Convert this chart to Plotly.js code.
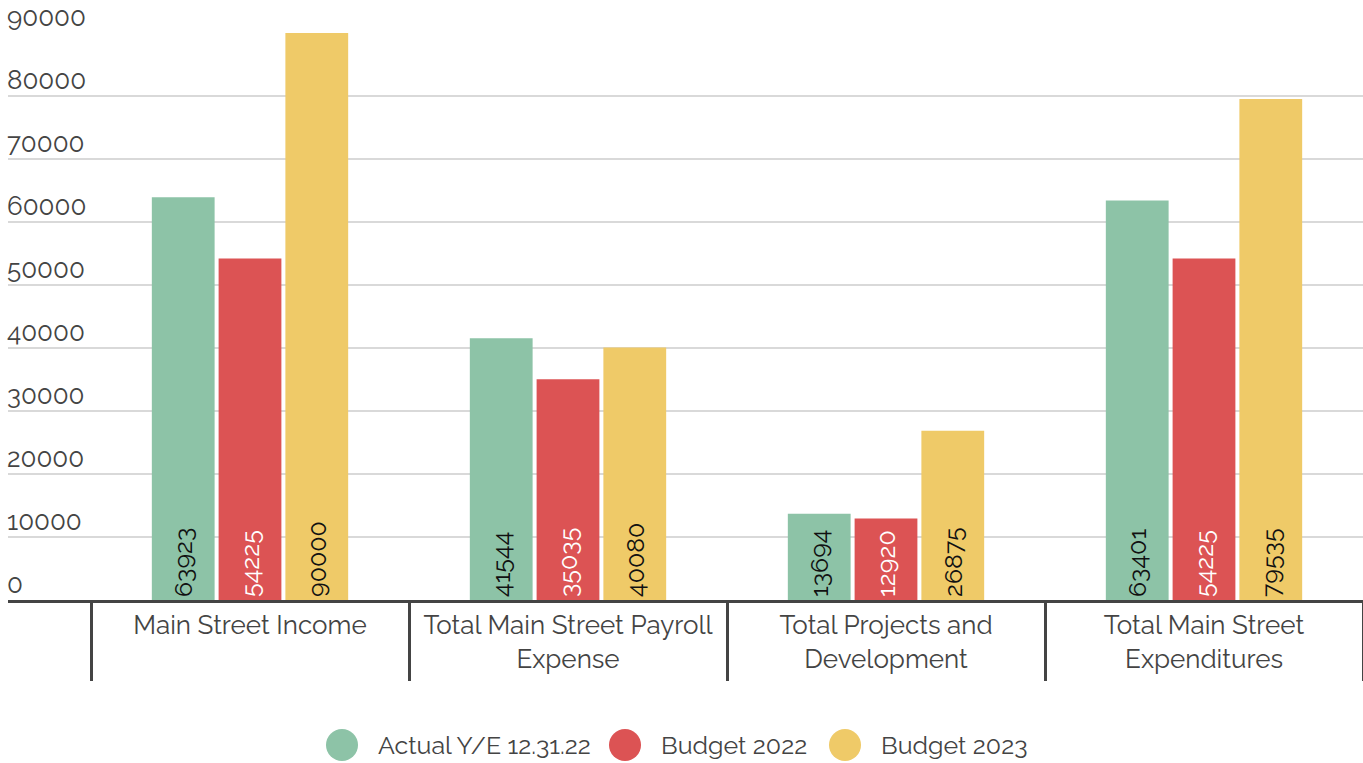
<!DOCTYPE html>
<html>
<head>
<meta charset="utf-8">
<script src="https://cdn.plot.ly/plotly-3.0.1.min.js"></script>
<style>
  html, body { margin: 0; padding: 0; background: #fff; }
  #chart { width: 1363px; height: 763px; }
</style>
</head>
<body>
<div id="chart"></div>
<script>
const categories = [
  'Main Street Income',
  'Total Main Street Payroll<br>Expense',
  'Total Projects and<br>Development',
  'Total Main Street<br>Expenditures',
];
const seriesNames = ['Actual Y/E 12.31.22', 'Budget 2022', 'Budget 2023'];
const actual2022 = [63923, 41544, 13694, 63401];
const budget2022 = [54225, 35035, 12920, 54225];
const budget2023 = [90000, 40080, 26875, 79535];
const yTicks = [0, 10000, 20000, 30000, 40000, 50000, 60000, 70000, 80000, 90000];

const colors = ['#8dc3a7', '#dc5354', '#efca68'];
const labelColors = ['#111111', '#ffffff', '#111111'];
const fontFamily = 'Raleway, Lato, "Open Sans", sans-serif';

const seriesValues = [actual2022, budget2022, budget2023];

const data = seriesValues.map((vals, i) => ({
  type: 'bar',
  name: seriesNames[i],
  x: categories,
  y: vals,
  text: vals.map(String),
  texttemplate: '%{text}',
  textposition: 'inside',
  insidetextanchor: 'start',
  textangle: -90,
  insidetextfont: { family: fontFamily, size: 25, color: labelColors[i] },
  marker: { color: colors[i] },
  showlegend: false,
  hoverinfo: 'x+y',
}));

// legend drawn by hand so the round markers can be as large as in the original
const legendX = [342, 625, 845];
const legendY = 745;
const plotLeft = 8;
const plotTop = 33;
const plotW = 1363 - plotLeft;
const plotH = 600 - plotTop;
const px = (x) => (x - plotLeft) / plotW;
const py = (y) => (600 - y) / plotH;

const shapes = seriesNames.map((n, i) => ({
  type: 'circle',
  xref: 'paper', yref: 'paper',
  xsizemode: 'pixel', ysizemode: 'pixel',
  xanchor: px(legendX[i]), yanchor: py(legendY),
  x0: -16, x1: 16, y0: -16, y1: 16,
  fillcolor: colors[i],
  line: { width: 0 },
}));

const annotations = seriesNames.map((n, i) => ({
  text: n,
  xref: 'paper', yref: 'paper',
  x: px(legendX[i] + 34), y: py(legendY),
  xanchor: 'left', yanchor: 'middle',
  showarrow: false,
  font: { family: fontFamily, size: 25, color: '#444' },
}));

const layout = {
  width: 1363,
  height: 763,
  margin: { l: plotLeft, r: 0, t: plotTop, b: 163 },
  paper_bgcolor: '#fff',
  plot_bgcolor: '#fff',
  font: { family: fontFamily, color: '#444' },
  barmode: 'group',
  bargap: 0.37,
  bargroupgap: 0.06,
  xaxis: {
    type: 'category',
    range: [-0.5 - 83 / 318, 3.5],
    showline: true,
    linecolor: '#444',
    linewidth: 3,
    ticks: 'outside',
    tickson: 'boundaries',
    ticklen: 78,
    tickwidth: 3,
    tickcolor: '#444',
    ticklabelstandoff: 0,
    tickfont: { family: fontFamily, size: 26, color: '#444' },
    showgrid: false,
    fixedrange: true,
  },
  yaxis: {
    range: [0, 90000],
    tickvals: yTicks,
    ticktext: yTicks.map(String),
    ticklabelposition: 'inside',
    ticklabelshift: -16,
    ticklabelstandoff: -4,
    ticklabeloverflow: 'allow',
    tickfont: { family: fontFamily, size: 26, color: '#444' },
    showgrid: true,
    gridcolor: '#d9d9d9',
    gridwidth: 2,
    zeroline: false,
    showline: false,
    fixedrange: true,
  },
  shapes: shapes,
  annotations: annotations,
};

Plotly.newPlot('chart', data, layout, { displayModeBar: false, responsive: false });
</script>
</body>
</html>
